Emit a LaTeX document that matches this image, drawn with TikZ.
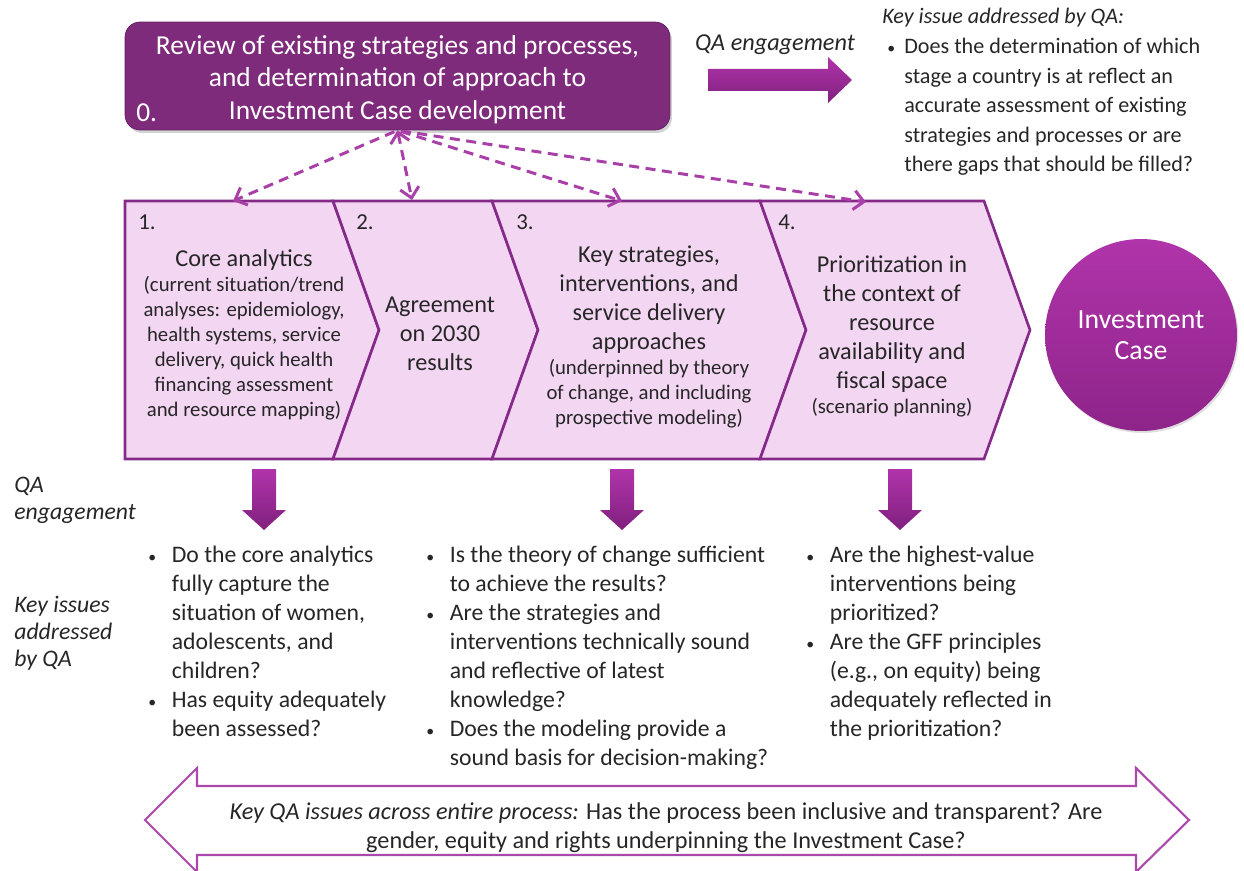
\documentclass[tikz,border=0pt]{standalone}
\usepackage{fontspec}
\setmainfont{Carlito}
\usepackage{tikz}
\usetikzlibrary{arrows.meta,positioning,shadows}

\definecolor{reviewfill}{RGB}{127,43,124}
\definecolor{stageline}{RGB}{134,42,138}
\definecolor{stagefill}{RGB}{243,214,242}
\definecolor{fanline}{RGB}{169,64,167}
\definecolor{qatop}{RGB}{176,52,170}
\definecolor{qabottom}{RGB}{128,32,126}
\definecolor{caselow}{RGB}{142,36,138}
\definecolor{bodytext}{RGB}{38,38,38}
\definecolor{bandline}{RGB}{172,72,172}

% bullet item with hanging indent (\\ keeps the paragraph going)
\newcommand{\qaitem}[2][0.47cm]{\noindent\hangindent=#1\hangafter=1%
  \makebox[#1][l]{\fontsize{9}{9}\selectfont\textbullet}{\let\\\newline #2}\par}
\newcommand{\notefont}{\fontsize{11.8}{14.2}\selectfont}

\begin{document}
\begin{tikzpicture}[
  x=0.02cm,y=-0.02cm,
  review/.style={draw=reviewfill!75!black, fill=reviewfill, rounded corners=0.3cm, minimum width=10.9cm, minimum height=2.16cm, text=white, align=center, font=\fontsize{15.6}{18.6}\selectfont, drop shadow={shadow xshift=0.04cm, shadow yshift=-0.06cm, opacity=0.35}},
  stage/.style={draw=stageline, fill=stagefill, line width=1.5pt, line join=miter},
  stagenum/.style={anchor=west, inner sep=0pt, text=bodytext, font=\fontsize{13}{15}\selectfont},
  stagetext/.style={text width=#1, align=flush center, inner sep=0pt, text=bodytext, font=\fontsize{13.8}{16.5}\selectfont},
  fantip/.tip={Straight Barb[length=2mm,width=3.8mm]},
  fan/.style={draw=fanline, line width=1.7pt, dash pattern=on 0.2cm off 0.13cm, -fantip},
  blockarr/.style={top color=qatop, bottom color=qabottom, draw=none},
  qalist/.style={text width=#1, align=flush left, anchor=north west, inner sep=0pt, text=bodytext, font=\fontsize{13.5}{16.5}\selectfont},
  sidelabel/.style={align=flush left, inner sep=0pt, text=bodytext, font=\fontsize{13.5}{15.4}\selectfont\itshape},
  band/.style={draw=bandline, fill=white, line width=1.2pt, line join=miter}
]
\useasboundingbox (0,0) rectangle (1244,871);

% stage 0 and its QA note
\node[review] (review) at (397.5,76) {\rule{0pt}{15pt}Review of existing strategies and processes,\\and determination of approach to\\Investment Case development};
\node[stagenum, text=white, font=\fontsize{15.6}{17}\selectfont] (zero) at (136,113) {0.};
\node[sidelabel, font=\fontsize{13.8}{15}\selectfont\itshape] (qatop) at (775,45) {QA engagement};
\shade[blockarr] (708,69) -- (828,69) -- (828,57) -- (852,80) -- (828,103) -- (828,91) -- (708,91) -- cycle;
\node[sidelabel, anchor=west, font=\fontsize{12.6}{15}\selectfont\itshape] (keytop) at (882,18) {Key issue addressed by QA:};
\node[qalist=7cm, font=\fontsize{12.6}{16.8}\selectfont] (issue0) at (887,38) {\qaitem[0.34cm]{Does the determination of which\\stage a country is at reflect an\\accurate assessment of existing\\strategies and processes or are\\there gaps that should be filled?}};

% stages 1-4
\filldraw[stage] (125,201) -- (333,201) -- (379,330) -- (333,459) -- (125,459) -- cycle;
\filldraw[stage] (333,201) -- (492,201) -- (538,330) -- (492,459) -- (333,459) -- (379,330) -- cycle;
\filldraw[stage] (492,201) -- (760,201) -- (806,330) -- (760,459) -- (492,459) -- (538,330) -- cycle;
\filldraw[stage] (760,201) -- (984,201) -- (1030,330) -- (984,459) -- (760,459) -- (806,330) -- cycle;

\node[stagenum] (num1) at (138,222) {1.};
\node[stagenum] (num2) at (356,222) {2.};
\node[stagenum] (num3) at (516,222) {3.};
\node[stagenum] (num4) at (778,222) {4.};

\node[stagetext=4.6cm] (core) at (244,335) {Core analytics\par{\notefont(current situation/trend\\analyses: epidemiology,\\health systems, service\\delivery, quick health\\financing assessment\\and resource mapping)\par}};
\node[stagetext=3cm] (agree) at (440,334) {Agreement\\on 2030\\results};
\node[stagetext=4.8cm] (strat) at (649,337) {Key strategies,\\interventions, and\\service delivery\\approaches\par{\notefont(underpinned by theory\\of change, and including\\prospective modeling)\par}};
\node[stagetext=4.4cm] (prior) at (892,336) {Prioritization in\\the context of\\resource\\availability and\\fiscal space\par{\notefont(scenario planning)\par}};

\node[circle, minimum size=3.84cm, top color=qatop, bottom color=caselow, draw=none, text=white, align=center, font=\fontsize{15.8}{17.8}\selectfont, drop shadow={shadow xshift=0.03cm, shadow yshift=-0.04cm, opacity=0.25}] (case) at (1141,335) {Investment\\Case};

% dashed links from stage 0
\coordinate (s1) at (233,201);
\coordinate (s2) at (412,200);
\coordinate (s3) at (622,201);
\coordinate (s4) at (866,202);
\draw[fan, shorten <=2pt] (review.south) -- (s1);
\draw[fan, fantip-fantip] (review.south) -- (s2);
\draw[fan, shorten <=2pt] (review.south) -- (s3);
\draw[fan, shorten <=2pt] (review.south) -- (s4);

% QA engagement per stage
\node[sidelabel, anchor=north west] (qaside) at (14,477) {QA\\engagement};
\node[sidelabel, anchor=north west] (keyside) at (14,596) {Key issues\\addressed\\by QA};
\shade[blockarr] (252,469) -- (276,469) -- (276,510) -- (286,510) -- (264,530) -- (242,510) -- (252,510) -- cycle;
\shade[blockarr] (610,469) -- (634,469) -- (634,510) -- (644,510) -- (622,530) -- (600,510) -- (610,510) -- cycle;
\shade[blockarr] (888,469) -- (912,469) -- (912,510) -- (922,510) -- (900,530) -- (878,510) -- (888,510) -- cycle;

\node[qalist=5.6cm] (issue1) at (148,546) {\qaitem{Do the core analytics\\fully capture the\\situation of women,\\adolescents, and\\children?}\qaitem{Has equity adequately\\been assessed?}};
\node[qalist=7.8cm] (issue3) at (426,546) {\qaitem{Is the theory of change sufficient\\to achieve the results?}\qaitem{Are the strategies and\\interventions technically sound\\and reflective of latest\\knowledge?}\qaitem{Does the modeling provide a\\sound basis for decision-making?}};
\node[qalist=5.8cm] (issue4) at (806,546) {\qaitem{Are the highest-value\\interventions being\\prioritized?}\qaitem{Are the GFF principles\\(e.g., on equity) being\\adequately reflected in\\the prioritization?}};

% issues across the whole process
\draw[band] (145,820) -- (197,768) -- (197,786) -- (1136,786) -- (1136,768) -- (1189,820) -- (1136,872) -- (1136,855) -- (197,855) -- (197,872) -- cycle;
\node[align=center, inner sep=0pt, text=bodytext, font=\fontsize{13.8}{16.4}\selectfont] (across) at (666,828) {\textit{Key QA issues across entire process:} Has the process been inclusive and transparent? Are\\gender, equity and rights underpinning the Investment Case?};
\end{tikzpicture}
\end{document}
